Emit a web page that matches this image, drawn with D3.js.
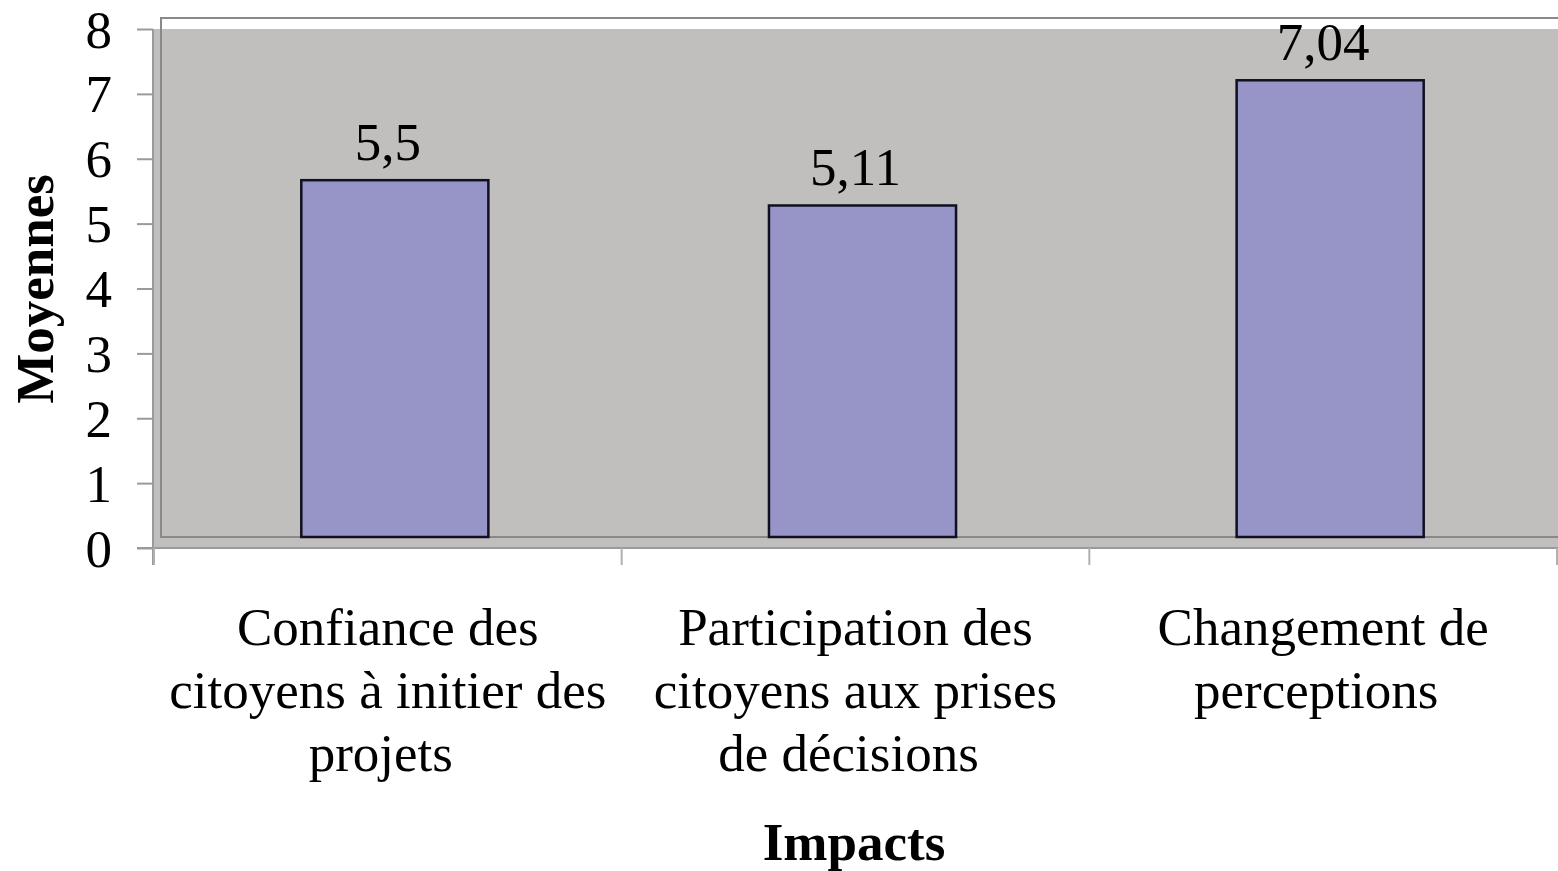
<!DOCTYPE html>
<html>
<head>
<meta charset="utf-8">
<script src="https://cdn.jsdelivr.net/npm/d3@7"></script>
<style>
  html, body { margin: 0; padding: 0; background: #ffffff; }
  svg { display: block; }
  text { font-family: "Liberation Serif", "Times New Roman", serif; fill: #000; }
</style>
</head>
<body>
<svg id="chart" width="1558" height="871"></svg>
<script>
// ---- data ----
const categories = [
  ["Confiance des", "citoyens à initier des", "projets"],
  ["Participation des", "citoyens aux prises", "de décisions"],
  ["Changement de", "perceptions"]
];
const values = [5.5, 5.11, 7.04];
const valueLabels = ["5,5", "5,11", "7,04"];
const yTicks = [0, 1, 2, 3, 4, 5, 6, 7, 8];
const yTitle = "Moyennes";
const xTitle = "Impacts";

// ---- layout ----
const svg = d3.select("#chart");
const pLeft = 154, pRight = 1557, pTop = 29, pBottom = 548;
const depthX = 7, depthY = 11; // 3D back-wall offset

const keys = categories.map((c, i) => i);
const x = d3.scaleBand().domain(keys).range([pLeft, pRight]).paddingInner(0).paddingOuter(0);
const y = d3.scaleLinear().domain([0, 8]).range([pBottom, pTop]);

// front plot area fill
svg.append("rect")
  .attr("x", pLeft - 1).attr("y", pTop)
  .attr("width", 1558 - (pLeft - 1)).attr("height", pBottom - pTop)
  .attr("fill", "#c1bebe");

// back wall outline
svg.append("rect")
  .attr("x", pLeft + depthX).attr("y", pTop - depthY)
  .attr("width", pRight - pLeft).attr("height", pBottom - pTop)
  .attr("fill", "none").attr("stroke", "#8a8888").attr("stroke-width", 2);

// bars
const barW = x.bandwidth() * 0.4;
svg.append("g").selectAll("rect")
  .data(values)
  .join("rect")
  .attr("x", (d, i) => x(i) + x.bandwidth() / 2 - barW / 2 + depthX)
  .attr("y", d => y(d) - depthY)
  .attr("width", barW)
  .attr("height", d => y(0) - y(d))
  .attr("fill", "#9795c7")
  .attr("stroke", "#101020")
  .attr("stroke-width", 2.5);

// value labels
svg.append("g").selectAll("text")
  .data(values)
  .join("text")
  .attr("x", (d, i) => x(i) + x.bandwidth() / 2)
  .attr("y", d => y(d) - depthY - 20)
  .attr("text-anchor", "middle")
  .attr("font-size", 53)
  .text((d, i) => valueLabels[i]);

// y axis
const yAxis = d3.axisLeft(y).tickValues(yTicks).tickSize(16).tickPadding(25)
  .tickFormat(d3.format("d"));
const gy = svg.append("g").attr("transform", `translate(${pLeft - 1},0)`).call(yAxis);
gy.select(".domain").attr("stroke", "#9a9a9a").attr("stroke-width", 2)
  .attr("d", `M0,${pTop}V${pBottom + 17}`);
gy.selectAll(".tick line").attr("stroke", "#9a9a9a").attr("stroke-width", 2);
gy.selectAll(".tick text")
  .attr("font-family", "Liberation Serif, Times New Roman, serif")
  .attr("font-size", 53).attr("fill", "#000").attr("dy", "0.34em");

// x axis (category boundaries as ticks)
svg.append("line")
  .attr("x1", pLeft - 17).attr("x2", 1558)
  .attr("y1", pBottom).attr("y2", pBottom)
  .attr("stroke", "#9a9a9a").attr("stroke-width", 2);
const boundaries = keys.map(k => x(k)).concat([pRight]);
svg.append("g").selectAll("line")
  .data(boundaries)
  .join("line")
  .attr("x1", d => d).attr("x2", d => d)
  .attr("y1", pBottom).attr("y2", pBottom + 17)
  .attr("stroke", "#b0b0b0").attr("stroke-width", 2);

// category labels
const catG = svg.append("g");
categories.forEach((lines, i) => {
  const cx = x(i) + x.bandwidth() / 2;
  const t = catG.append("text")
    .attr("text-anchor", "middle")
    .attr("font-size", 53)
    .attr("x", cx)
    .attr("y", 645);
  lines.forEach((ln, j) => {
    const last = j === lines.length - 1;
    t.append("tspan")
      .attr("x", last ? cx - 7 : cx)
      .attr("dy", j === 0 ? 0 : 63)
      .text(ln);
  });
});

// axis titles
svg.append("text")
  .attr("transform", "translate(53,289) rotate(-90)")
  .attr("text-anchor", "middle")
  .attr("font-size", 53).attr("font-weight", "bold")
  .text(yTitle);

svg.append("text")
  .attr("x", 854).attr("y", 860)
  .attr("text-anchor", "middle")
  .attr("font-size", 53).attr("font-weight", "bold")
  .text(xTitle);
</script>
</body>
</html>
